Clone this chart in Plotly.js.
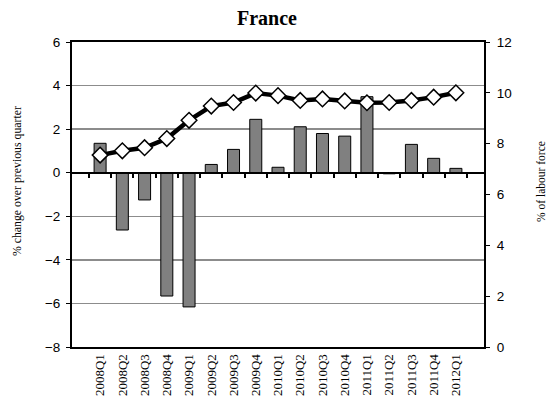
<!DOCTYPE html>
<html>
<head>
<meta charset="utf-8">
<script src="https://cdn.plot.ly/plotly-3.0.1.min.js"></script>
<style>html,body{margin:0;padding:0;background:#fff;}#chart{width:546px;height:405px;}</style>
</head>
<body>
<div id="chart"></div>
<script>
var quarters = ["2008Q1","2008Q2","2008Q3","2008Q4","2009Q1","2009Q2","2009Q3","2009Q4","2010Q1","2010Q2","2010Q3","2010Q4","2011Q1","2011Q2","2011Q3","2011Q4","2012Q1"];
var qoqChange = [1.35,-2.63,-1.25,-5.66,-6.16,0.38,1.07,2.45,0.25,2.11,1.8,1.68,3.49,-0.05,1.3,0.66,0.2];
var unemploymentRate = [7.55,7.72,7.84,8.2,8.92,9.48,9.62,9.99,9.89,9.7,9.76,9.68,9.61,9.62,9.7,9.83,10.0];
var leftTicks = [-8,-6,-4,-2,0,2,4,6];
var rightTicks = [0,2,4,6,8,10,12];
var leftTitle = "% change over previous quarter";
var rightTitle = "% of labour force";

var traces = [
  {type:"bar", x:quarters, y:qoqChange, yaxis:"y", xaxis:"x",
   marker:{color:"#808080", line:{color:"#000", width:1}}, hoverinfo:"x+y"},
  {type:"scatter", mode:"lines+markers", x:quarters, y:unemploymentRate, yaxis:"y2", xaxis:"x",
   line:{color:"#000", width:4.5},
   marker:{symbol:"diamond", size:12, color:"#fff", line:{color:"#000", width:1.5}}}
];

var zeroFrac = (0 - leftTicks[0]) / (leftTicks[leftTicks.length-1] - leftTicks[0]);
var serif = "Liberation Serif, Times New Roman, serif";

var layout = {
  width:546, height:405,
  margin:{l:72, r:62, t:42, b:58},
  paper_bgcolor:"#fff", plot_bgcolor:"#fff",
  showlegend:false,
  bargap:0.46,
  title:{text:"<b>France</b>", x:0.489, xanchor:"center", y:0.972, yanchor:"top",
         font:{family:serif, size:20, color:"#000"}},
  xaxis:{type:"category", showline:true, mirror:true, linecolor:"#000", linewidth:2,
         ticks:"", tickangle:-90, showgrid:false, zeroline:false, automargin:false,
         tickfont:{family:serif, size:13, color:"#000"}},
  xaxis2:{type:"category", overlaying:"x", anchor:"free", position:zeroFrac,
          showline:true, linecolor:"#000", linewidth:2, ticks:"outside", ticklen:4, tickwidth:2, tickcolor:"#000",
          tickson:"boundaries", showticklabels:false, showgrid:false, zeroline:false,
          categoryarray:quarters, categoryorder:"array", matches:"x"},
  yaxis:{range:[-8,6], tickvals:leftTicks, ticks:"outside", ticklen:4, tickcolor:"#000",
         showgrid:true, gridcolor:"#8c8c8c", gridwidth:1.5, zeroline:false, automargin:false,
         showline:true, linecolor:"#000", linewidth:2, ticklabelstandoff:3,
         tickfont:{family:"Liberation Sans, Arial, sans-serif", size:13.5, color:"#000"}},
  yaxis2:{range:[0,12], tickvals:rightTicks, overlaying:"y", side:"right", ticks:"outside", ticklen:4, tickcolor:"#000",
          showgrid:false, zeroline:false, showline:true, linecolor:"#000", linewidth:2, automargin:false,
          ticklabelstandoff:4,
          tickfont:{family:"Liberation Sans, Arial, sans-serif", size:13.5, color:"#000"}},
  annotations:[
    {text:leftTitle, xref:"paper", yref:"paper", x:-0.1335, y:0.544, xanchor:"center", yanchor:"middle",
     textangle:-90, showarrow:false, font:{family:serif, size:11.8, color:"#000"}},
    {text:rightTitle, xref:"paper", yref:"paper", x:1.138, y:0.544, xanchor:"center", yanchor:"middle",
     textangle:-90, showarrow:false, font:{family:serif, size:11.5, color:"#000"}}
  ]
};

// invisible trace to activate xaxis2 (the zero line with ticks)
traces.push({type:"scatter", x:quarters, y:qoqChange.map(function(){return null;}), xaxis:"x2", yaxis:"y", hoverinfo:"skip", showlegend:false});

Plotly.newPlot("chart", traces, layout, {staticPlot:true});
</script>
</body>
</html>
